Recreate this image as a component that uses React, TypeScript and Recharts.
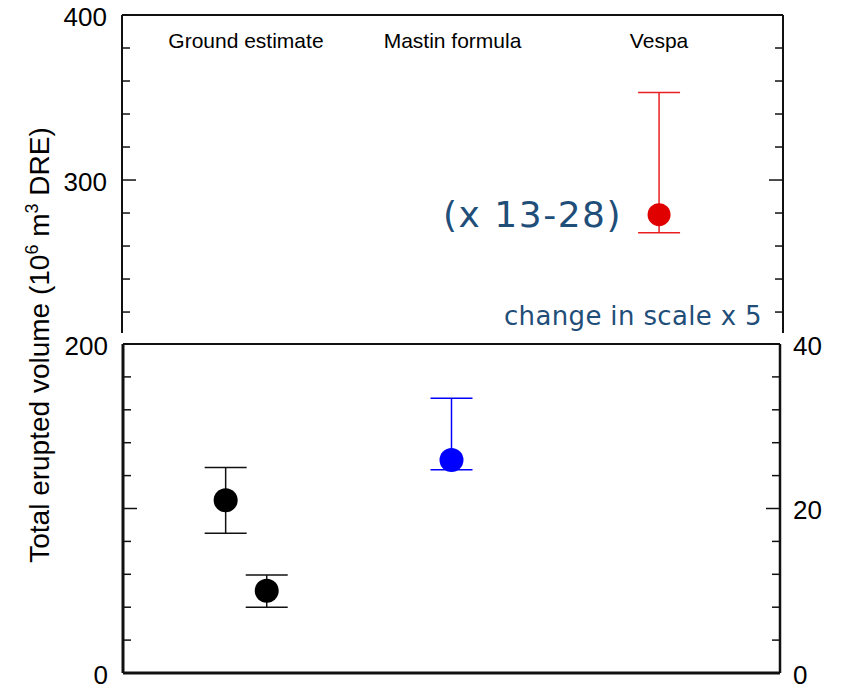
import React from 'react';
import { ScatterChart, Scatter, XAxis, YAxis, ErrorBar } from 'recharts';

// ---------- data ----------
const CATEGORIES = ['Ground estimate', 'Mastin formula', 'Vespa'];
const CATEGORY_POS = [0.6, 1.6, 2.6];

// lower panel (right axis, 10^6 m3 DRE, 0-40)
const groundX = [0.5, 0.7];
const groundY = [21.0, 10.0];
const groundLow = [17.0, 8.0];
const groundHigh = [25.0, 11.9];

const mastinX = [1.6];
const mastinY = [25.9];
const mastinLow = [24.7];
const mastinHigh = [33.4];

// upper panel (left axis, 200-400)
const vespaX = [2.6];
const vespaY = [279];
const vespaLow = [268];
const vespaHigh = [353];

const TOP_TICKS = [220, 240, 260, 280, 300, 320, 340, 360, 380, 400];
const TOP_LABELS = [300, 400];
const TOP_MAJOR = [300];

const LOW_LEFT_TICKS = [0, 20, 40, 60, 80, 100, 120, 140, 160, 180, 200];
const LOW_LEFT_LABELS = [0, 200];
const LOW_LEFT_MAJOR = [100];

const LOW_RIGHT_TICKS = [0, 4, 8, 12, 16, 20, 24, 28, 32, 36, 40];
const LOW_RIGHT_LABELS = [0, 20, 40];
const LOW_RIGHT_MAJOR = [20];

const build = (xs: number[], ys: number[], lo: number[], hi: number[]) =>
  xs.map((x, i) => ({ x, y: ys[i], err: [ys[i] - lo[i], hi[i] - ys[i]] }));

const groundData = build(groundX, groundY, groundLow, groundHigh);
const mastinData = build(mastinX, mastinY, mastinLow, mastinHigh);
const vespaData = build(vespaX, vespaY, vespaLow, vespaHigh);

// ---------- styling helpers ----------
const AXIS_FONT = 'Liberation Sans, Arial, Helvetica, sans-serif';
const ANNO_FONT = 'DejaVu Sans, Verdana, sans-serif';
const ANNO_COLOR = '#1f4e79';
const INK = '#111';

function makeTick(side: 'left' | 'right', labels: number[], major: number[]) {
  return (props: any) => {
    const { x, y, payload } = props;
    const v = payload.value;
    const len = major.includes(v) ? 14 : 8;
    const dir = side === 'left' ? 1 : -1;
    return (
      <g>
        <line x1={x} y1={y} x2={x + dir * len} y2={y} stroke={INK} strokeWidth={1.5} />
        {labels.includes(v) && (
          <text
            x={side === 'left' ? x - 15 : x + 13}
            y={y + 10.5}
            textAnchor={side === 'left' ? 'end' : 'start'}
            fontFamily={AXIS_FONT}
            fontSize={26}
            fill="#000"
          >
            {v}
          </text>
        )}
      </g>
    );
  };
}

const CategoryTick = (props: any) => {
  const { x, y, payload } = props;
  const idx = CATEGORY_POS.indexOf(payload.value);
  return (
    <text x={x} y={y + 33} textAnchor="middle" fontFamily={AXIS_FONT} fontSize={21} fill="#000">
      {idx >= 0 ? CATEGORIES[idx] : ''}
    </text>
  );
};

const dot = (r: number, color: string) => (props: any) =>
  <circle cx={props.cx} cy={props.cy} r={r} fill={color} />;

export default function App() {
  return (
    <div style={{ position: 'absolute', left: 0, top: 0, width: 841, height: 688, background: '#fff' }}>
      {/* upper panel */}
      <div style={{ position: 'absolute', left: 0, top: 0 }}>
        <ScatterChart width={841} height={688} margin={{ top: 14, left: 121, right: 57, bottom: 355 }}>
          <XAxis
            type="number"
            dataKey="x"
            orientation="top"
            domain={[0, 3.2]}
            ticks={CATEGORY_POS}
            interval={0}
            height={1}
            tickSize={0}
            tickMargin={0}
            tickLine={false}
            tick={CategoryTick}
            axisLine={{ stroke: INK, strokeWidth: 1.8 }}
            allowDataOverflow
          />
          <YAxis
            yAxisId="l"
            type="number"
            dataKey="y"
            domain={[207.3, 400]}
            ticks={TOP_TICKS}
            interval={0}
            width={1}
            tickSize={0}
            tickMargin={0}
            tickLine={false}
            tick={makeTick('left', TOP_LABELS, TOP_MAJOR)}
            axisLine={{ stroke: INK, strokeWidth: 2 }}
            allowDataOverflow
          />
          <YAxis
            yAxisId="r"
            orientation="right"
            type="number"
            domain={[207.3, 400]}
            ticks={TOP_TICKS}
            interval={0}
            width={1}
            tickSize={0}
            tickMargin={0}
            tickLine={false}
            tick={makeTick('right', [], TOP_MAJOR)}
            axisLine={{ stroke: INK, strokeWidth: 2 }}
            allowDataOverflow
          />
          <Scatter yAxisId="l" data={vespaData} shape={dot(11.5, '#e00000')} isAnimationActive={false}>
            <ErrorBar dataKey="err" direction="y" width={21} stroke="#e82020" strokeWidth={1.5} isAnimationActive={false} />
          </Scatter>
        </ScatterChart>
      </div>

      {/* lower panel */}
      <div style={{ position: 'absolute', left: 0, top: 0 }}>
        <ScatterChart width={841} height={688} margin={{ top: 343, left: 122, right: 60, bottom: 14 }}>
          <XAxis
            xAxisId="b"
            type="number"
            dataKey="x"
            domain={[0, 3.2]}
            height={1}
            tick={false}
            tickLine={false}
            axisLine={{ stroke: INK, strokeWidth: 3 }}
            allowDataOverflow
          />
          <XAxis
            xAxisId="t"
            orientation="top"
            type="number"
            domain={[0, 3.2]}
            height={1}
            tick={false}
            tickLine={false}
            axisLine={{ stroke: INK, strokeWidth: 1.8 }}
            allowDataOverflow
          />
          <YAxis
            yAxisId="l"
            type="number"
            domain={[0, 200]}
            ticks={LOW_LEFT_TICKS}
            interval={0}
            width={1}
            tickSize={0}
            tickMargin={0}
            tickLine={false}
            tick={makeTick('left', LOW_LEFT_LABELS, LOW_LEFT_MAJOR)}
            axisLine={{ stroke: INK, strokeWidth: 3 }}
            allowDataOverflow
          />
          <YAxis
            yAxisId="r"
            orientation="right"
            type="number"
            dataKey="y"
            domain={[0, 40]}
            ticks={LOW_RIGHT_TICKS}
            interval={0}
            width={1}
            tickSize={0}
            tickMargin={0}
            tickLine={false}
            tick={makeTick('right', LOW_RIGHT_LABELS, LOW_RIGHT_MAJOR)}
            axisLine={{ stroke: INK, strokeWidth: 2.5 }}
            allowDataOverflow
          />
          <Scatter xAxisId="b" yAxisId="r" data={groundData} shape={dot(12, '#000')} isAnimationActive={false}>
            <ErrorBar dataKey="err" direction="y" width={21} stroke={INK} strokeWidth={1.5} isAnimationActive={false} />
          </Scatter>
          <Scatter xAxisId="b" yAxisId="r" data={mastinData} shape={dot(12, '#0000ff')} isAnimationActive={false}>
            <ErrorBar dataKey="err" direction="y" width={21} stroke="#0000ff" strokeWidth={1.5} isAnimationActive={false} />
          </Scatter>
        </ScatterChart>
      </div>

      {/* annotations and axis title */}
      <svg
        width={841}
        height={688}
        style={{ position: 'absolute', left: 0, top: 0, pointerEvents: 'none' }}
      >
        <text
          x={49}
          y={345}
          transform="rotate(-90 49 345)"
          textAnchor="middle"
          fontFamily={AXIS_FONT}
          fontSize={28}
          fill="#000"
        >
          Total erupted volume (10
          <tspan dy={-11} fontSize={18}>6</tspan>
          <tspan dy={11}> m</tspan>
          <tspan dy={-11} fontSize={18}>3</tspan>
          <tspan dy={11}> DRE)</tspan>
        </text>
        <text x={622} y={227} textAnchor="end" fontFamily={ANNO_FONT} fontSize={36} letterSpacing={1.5} fill={ANNO_COLOR}>
          (x 13-28)
        </text>
        <text x={762} y={325} textAnchor="end" fontFamily={ANNO_FONT} fontSize={26} letterSpacing={0.35} fill={ANNO_COLOR}>
          change in scale x 5
        </text>
      </svg>
    </div>
  );
}
